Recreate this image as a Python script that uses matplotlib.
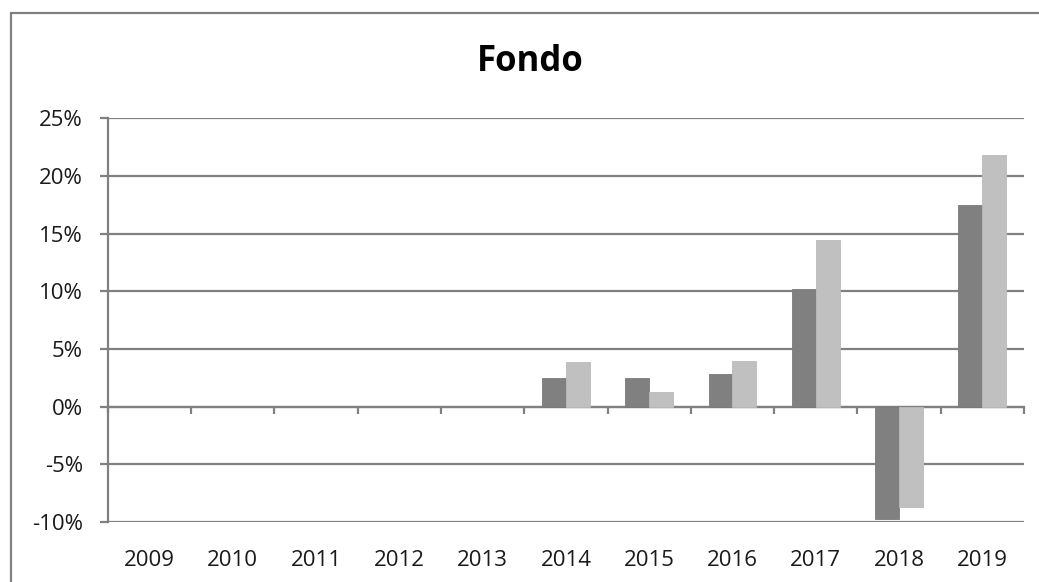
import numpy as np
import matplotlib
matplotlib.use("Agg")
import matplotlib.pyplot as plt
from matplotlib.patches import Rectangle
from matplotlib.ticker import FuncFormatter

years = ["2009", "2010", "2011", "2012", "2013", "2014", "2015", "2016", "2017", "2018", "2019"]
series_dark = [np.nan, np.nan, np.nan, np.nan, np.nan, 2.5, 2.5, 2.8, 10.2, -9.7, 17.5]
series_light = [np.nan, np.nan, np.nan, np.nan, np.nan, 3.9, 1.25, 4.0, 14.5, -8.7, 21.8]
title = "Fondo"
yticks = [-10, -5, 0, 5, 10, 15, 20, 25]

plt.rcParams['font.family'] = ['Open Sans', 'DejaVu Sans']
GRID = '#808080'

fig = plt.figure(figsize=(10.39, 5.82), dpi=100)
ax = fig.add_axes([0.1039, 0.1031, 0.8816, 0.6933])

x = np.arange(len(years))
w = 0.286
ax.bar(x - w / 2, series_dark, w, color='#808080', edgecolor='#7a7a7a', linewidth=0.6, zorder=3)
ax.bar(x + w / 2, series_light, w, color='#c0c0c0', edgecolor='#bababa', linewidth=0.6, zorder=3)

ax.set_xlim(-0.5, len(years) - 0.5)
ax.set_ylim(-10, 25)
ax.set_yticks(yticks)
ax.yaxis.set_major_formatter(FuncFormatter(lambda v, p: f"{v:.0f}%"))
ax.grid(axis='y', color=GRID, linewidth=1.6, zorder=1)
ax.set_axisbelow(True)

for s in ['top', 'right', 'bottom']:
    ax.spines[s].set_visible(False)
ax.spines['left'].set_color(GRID)
ax.spines['left'].set_linewidth(1.6)

ax.tick_params(axis='y', direction='out', length=6, width=1.6, color=GRID,
               pad=12, labelsize=16, labelcolor='#1a1a1a')
ax.set_xticks(x, years)
ax.tick_params(axis='x', length=0, pad=20, labelsize=16, labelcolor='#1a1a1a')

# category boundary ticks on the zero line
zero_frac = (0 - (-10)) / (25 - (-10))
sec = ax.secondary_xaxis(zero_frac)
sec.set_xticks(np.arange(len(years) + 1) - 0.5)
sec.set_xticklabels([])
sec.tick_params(axis='x', direction='out', length=5, width=1.6, color=GRID)
sec.spines['bottom'].set_color(GRID)
sec.spines['bottom'].set_linewidth(1.6)
for s in ['top', 'left', 'right']:
    sec.spines[s].set_visible(False)

fig.text(0.51, 1 - 62 / 582, title, ha='center', va='center', fontsize=25,
         fontweight='bold', color='#000000')

fig.patches.append(Rectangle((11 / 1039, -0.2), 2, 1.2 - 13 / 582, transform=fig.transFigure,
                             fill=False, edgecolor=GRID, linewidth=1.6, clip_on=False))

fig.savefig('out.png', dpi=100, facecolor='white')
